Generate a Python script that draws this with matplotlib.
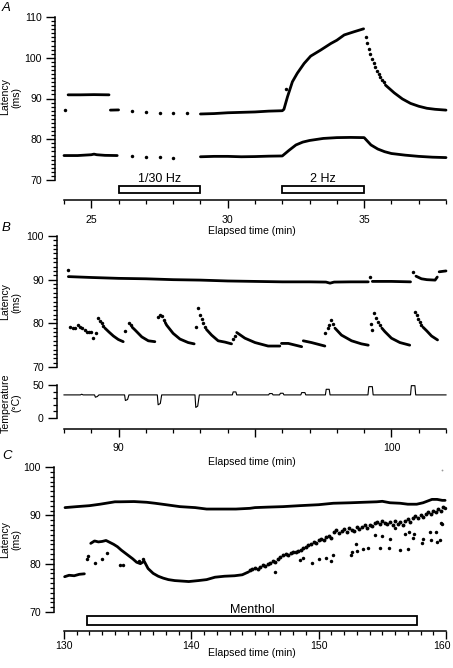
import matplotlib
matplotlib.use("Agg")
import matplotlib.pyplot as plt
from matplotlib.patches import Rectangle
from matplotlib.ticker import MultipleLocator, FixedLocator
from matplotlib.transforms import ScaledTranslation

plt.rcParams['font.family'] = ['Liberation Sans', 'DejaVu Sans']

# ---------------- panel A : latency vs time ----------------
a_up_dot_t = [24.05, 26.5, 27.0, 27.5, 28.0, 28.5, 32.12]
a_up_dot_v = [87.1, 86.85, 86.6, 86.5, 86.35, 86.35, 92.3]
a_up_seg1_t = [24.15, 24.6, 25.1, 25.65]
a_up_seg1_v = [90.9, 90.9, 90.95, 90.9]
a_up_seg2_t = [25.7, 26.0]
a_up_seg2_v = [87.15, 87.2]
a_up_seg3_t = [29.0, 29.5, 30.0, 30.5, 31.0, 31.5, 32.0, 32.06, 32.19, 32.37, 32.55,
               32.8, 33.04, 33.41, 33.78, 34.0, 34.27, 34.64, 34.98]
a_up_seg3_v = [86.2, 86.3, 86.5, 86.6, 86.7, 86.9, 87.0, 87.35, 90.4, 94.1, 96.2,
               98.6, 100.4, 101.9, 103.5, 104.3, 105.6, 106.4, 107.1]
a_decay_dot_t = [35.05, 35.11, 35.17, 35.23, 35.29, 35.35, 35.41, 35.47, 35.53,
                 35.59, 35.65, 35.71]
a_decay_dot_v = [105.2, 103.6, 102.2, 100.9, 99.7, 98.7, 97.7, 96.8, 96.0,
                 95.3, 94.6, 94.0]
a_decay_t = [35.78, 36.1, 36.4, 36.7, 37.0, 37.3, 37.6, 38.0]
a_decay_v = [93.3, 91.4, 89.9, 88.8, 88.1, 87.6, 87.35, 87.15]

a_lo_seg1_t = [24.0, 24.5, 25.0, 25.1, 25.2, 25.5, 25.95]
a_lo_seg1_v = [76.0, 76.0, 76.2, 76.35, 76.2, 76.05, 76.0]
a_lo_dot_t = [26.5, 27.0, 27.5, 28.0]
a_lo_dot_v = [75.8, 75.7, 75.65, 75.5]
a_lo_seg2_t = [29.0, 29.5, 30.0, 30.5, 31.0, 31.5, 32.0, 32.25, 32.5, 32.75, 33.0, 33.5,
               34.0, 34.5, 35.0, 35.25, 35.5, 35.75, 36.0, 36.5, 37.0, 37.5, 38.0]
a_lo_seg2_v = [75.7, 75.8, 75.8, 75.7, 75.75, 75.85, 75.9, 77.3, 78.6, 79.3, 79.7, 80.2,
               80.4, 80.45, 80.4, 78.6, 77.6, 76.95, 76.5, 76.1, 75.8, 75.6, 75.5]

a_bar_start = [26, 32]
a_bar_end = [29, 35]
a_bar_labels = ['1/30 Hz', '2 Hz']

# ---------------- panel B : latency + temperature ----------------
b_up_dot_t = [88.13, 99.23, 100.8]
b_up_dot_v = [92.2, 90.7, 91.7]
b_up_seg1_t = [88.16, 89.0, 90.0, 91.0, 92.0, 93.0, 94.0, 95.0, 96.0, 97.0, 97.6,
               97.75, 97.9, 98.5, 99.15]
b_up_seg1_v = [90.7, 90.5, 90.3, 90.2, 90.0, 89.9, 89.7, 89.6, 89.5, 89.5, 89.45,
               89.2, 89.45, 89.5, 89.5]
b_up_seg2_t = [99.3, 100.0, 100.7]
b_up_seg2_v = [89.6, 89.6, 89.5]
b_up_seg3_t = [100.9, 101.1, 101.3, 101.6, 101.68]
b_up_seg3_v = [90.8, 90.2, 90.0, 89.9, 90.6]
b_up_seg4_t = [101.75, 102.0]
b_up_seg4_v = [91.8, 92.0]

b_lo_dot_t = [88.22, 88.34, 88.40, 88.52, 88.60, 88.65, 88.77, 88.83, 88.92, 88.99, 89.07, 89.16,
              89.26, 89.32, 89.38, 89.44,
              90.23, 90.38, 90.44,
              91.45, 91.52, 91.58, 91.65,
              92.82, 92.92, 92.98, 93.04, 93.10, 93.16,
              94.2, 94.27,
              97.58, 97.66, 97.72, 97.78, 97.85,
              99.25, 99.27, 99.37, 99.44, 99.51, 99.58,
              100.86, 100.92, 100.98, 101.04, 101.10]
b_lo_dot_v = [79.1, 78.9, 79.0, 79.6, 79.1, 78.9, 78.5, 78.1, 78.1, 78.0, 76.7, 77.7,
              81.15, 80.5, 80.0, 79.5,
              78.3, 80.15, 79.6,
              81.5, 81.9, 81.6, 80.8,
              79.2, 83.4, 81.9, 81.0, 80.1, 79.2,
              76.3, 77.2,
              77.7, 78.9, 79.6, 80.8, 79.8,
              79.85, 78.5, 82.3, 81.3, 80.4, 79.6,
              82.7, 81.8, 81.0, 80.4, 79.7]
b_lo_tails = [
    ([89.50, 89.65, 89.81, 89.99, 90.17], [78.9, 78.0, 77.1, 76.3, 75.8]),
    ([90.50, 90.60, 90.85, 91.09, 91.33], [79.1, 78.5, 76.9, 76.0, 75.8]),
    ([91.71, 91.76, 92.0, 92.25, 92.55, 92.77], [80.2, 79.6, 77.7, 76.4, 75.6, 75.3]),
    ([93.22, 93.41, 93.65, 93.90, 94.14], [78.6, 77.3, 76.0, 75.7, 75.3]),
    ([94.33, 94.63, 95.0, 95.48, 95.91], [77.9, 76.6, 75.6, 74.8, 74.8]),
    ([95.97, 96.22, 96.71], [75.4, 75.4, 74.65]),
    ([96.77, 97.07, 97.56], [76.0, 75.6, 74.8]),
    ([97.93, 98.17, 98.54, 98.9, 99.15], [78.9, 77.3, 76.0, 75.3, 75.0]),
    ([99.65, 99.76, 100.0, 100.31, 100.67], [78.9, 78.1, 76.6, 75.6, 75.0]),
    ([101.16, 101.29, 101.47, 101.69], [79.1, 78.3, 77.1, 76.2]),
]

temp_t = [88.0, 88.6, 88.65, 88.7, 89.12, 89.15, 89.22, 89.28, 90.22, 90.25, 90.33, 90.38,
          91.42, 91.45, 91.53, 91.58, 92.8, 92.83, 92.9, 92.96, 94.17, 94.2, 94.3, 94.33,
          95.5, 95.53, 95.63, 95.66, 95.9, 95.93, 96.03, 96.06, 96.68, 96.71, 96.83, 96.86,
          97.58, 97.61, 97.72, 97.75, 99.14, 99.17, 99.3, 99.33, 100.7, 100.73, 100.86,
          100.89, 102.0]
temp_v = [35, 35, 36, 35, 35, 31.5, 32.5, 35, 35, 26.5, 28, 35, 35, 20, 22, 35, 35, 16,
          18, 35, 35, 39.5, 39.5, 35, 35, 37, 37, 35, 35, 37.5, 37.5, 35, 35, 38.5, 38.5,
          35, 35, 43.5, 43.5, 35, 35, 47.5, 47.5, 35, 35, 49, 49, 35, 35]

# ---------------- panel C : menthol ----------------
c_up_t = [130.08, 131.0, 132.0, 132.83, 134.0, 134.4, 135.5, 136.5, 137.15, 138.0, 139.1,
          140.3, 141.2, 142.4, 143.5, 144.6, 145.0, 146.0, 147.2, 148.5, 150.0, 151.15,
          152.5, 153.5, 154.56, 155.0, 155.6, 156.4, 157.0, 157.7, 158.2, 158.5, 158.9,
          159.3, 159.7, 159.93]
c_up_v = [91.6, 91.8, 92.0, 92.3, 92.8, 92.8, 92.85, 92.7, 92.5, 92.2, 91.8, 91.6, 91.3,
          91.3, 91.3, 91.45, 91.6, 91.7, 91.8, 92.0, 92.2, 92.5, 92.6, 92.7, 92.8, 92.9,
          92.6, 92.5, 92.3, 92.3, 92.6, 92.9, 93.3, 93.3, 93.1, 93.1]

c_lo_seg1_t = [130.05, 130.4, 130.8, 131.2, 131.6]
c_lo_seg1_v = [77.3, 77.6, 77.5, 77.8, 77.9]
c_lo_seg2_t = [132.1, 132.4, 132.7, 133.0, 133.3, 133.6, 133.9, 134.2, 134.5, 134.8, 135.1,
               135.4, 135.7, 136.0, 136.3, 136.6, 137.0, 137.4, 137.8, 138.2, 138.7, 139.25,
               139.8, 140.55, 141.2, 141.86, 142.6, 143.4, 144.0, 144.5]
c_lo_seg2_v = [84.2, 84.7, 84.5, 84.6, 84.8, 84.4, 84.0, 83.5, 82.8, 82.2, 81.6, 81.0,
               80.3, 80.0, 80.5, 79.0, 78.0, 77.4, 77.0, 76.7, 76.5, 76.4, 76.3, 76.5,
               76.7, 77.2, 77.4, 77.5, 77.7, 78.3]
c_lo_band_t = [144.6, 144.8, 145.0, 145.2, 145.4, 145.6, 145.8, 146.0, 146.2, 146.4, 146.6,
               146.8, 147.0, 147.2, 147.4, 147.6, 147.8, 148.0, 148.2, 148.4, 148.6, 148.8,
               149.0, 149.2, 149.4, 149.6, 149.8, 150.0, 150.2, 150.4, 150.6, 150.8, 151.0,
               151.2, 151.4, 151.6, 151.8, 152.0, 152.2, 152.4, 152.6, 152.8, 153.0, 153.2,
               153.4, 153.6, 153.8, 154.0, 154.2, 154.4, 154.6, 154.8, 155.0, 155.2, 155.4,
               155.6, 155.8, 156.0, 156.2, 156.4, 156.6, 156.8, 157.0, 157.2, 157.4, 157.6,
               157.8, 158.0, 158.2, 158.4, 158.6, 158.8, 159.0, 159.2, 159.4, 159.6, 159.8]
c_lo_band_v = [78.7, 79.0, 79.2, 79.0, 79.4, 79.8, 79.6, 80.0, 80.2, 80.5, 80.3,
               80.9, 81.3, 81.7, 82.0, 81.8, 82.2, 82.5, 82.4, 82.6, 82.8, 83.2,
               83.4, 83.9, 84.1, 84.5, 84.3, 84.9, 85.2, 84.8, 85.5, 85.8, 85.3,
               86.6, 86.9, 86.4, 86.8, 87.1, 86.5, 87.3, 87.0, 86.7, 87.5, 87.2,
               87.6, 87.9, 87.4, 88.0, 87.7, 88.4, 88.7, 88.3, 88.9, 88.5, 88.2,
               88.6, 88.0, 88.8, 88.3, 88.6, 88.1, 88.9, 89.2, 88.6, 89.4, 89.8,
               89.4, 90.0, 89.7, 90.3, 90.6, 90.2, 91.0, 90.7, 91.4, 91.0, 91.8]
c_lo_scatter_t = [131.8, 131.9, 132.4, 132.96, 133.35, 134.4, 134.66, 135.9, 136.2,
                  146.6, 148.5, 148.8, 149.45, 150.0, 150.6, 151.0, 151.15, 152.5, 152.6,
                  152.9, 153.0, 153.5, 153.9, 154.4, 154.8, 155.0, 155.5, 155.6, 156.0,
                  156.4, 156.8, 157.0, 157.1, 157.4, 157.5, 158.1, 158.2, 158.75, 158.8,
                  159.2, 159.3, 159.5, 159.6, 159.7, 159.9]
c_lo_scatter_v = [81.0, 81.5, 80.1, 80.9, 82.3, 79.7, 79.7, 80.6, 80.9,
                  78.3, 80.8, 81.1, 80.2, 80.9, 81.1, 80.6, 81.8, 81.8, 82.5,
                  84.1, 82.6, 83.0, 83.2, 85.9, 83.2, 85.7, 83.2, 85.2, 87.3,
                  82.8, 86.2, 83.0, 86.6, 85.3, 86.2, 84.2, 85.2, 86.6, 84.9,
                  86.5, 84.5, 84.8, 88.35, 88.2, 91.5]
c_stray_t = [159.7]
c_stray_v = [99.3]

c_bar_start = [131.83]
c_bar_end = [157.75]
c_bar_labels = ['Menthol']
c_ticks = [130, 140, 150, 160]

# ---------------- layout helpers ----------------
W, H = 453, 668
fig = plt.figure(figsize=(W / 100, H / 100), dpi=100)
PT = 0.72  # points per pixel at 100 dpi
LW = 2.0
MS = 2.5
FS = 7.6


def box(x0, y0, x1, y1):
    return [x0 / W, 1 - y1 / H, (x1 - x0) / W, (y1 - y0) / H]


def style(ax, left_off, bottom_off=None, xpad=4):
    ax.spines['top'].set_visible(False)
    ax.spines['right'].set_visible(False)
    ax.spines['left'].set_position(('outward', left_off * PT))
    ax.spines['left'].set_linewidth(1.1)
    if bottom_off is None:
        ax.spines['bottom'].set_visible(False)
        ax.tick_params(axis='x', which='both', bottom=False, labelbottom=False)
    else:
        ax.spines['bottom'].set_position(('outward', bottom_off * PT))
        ax.spines['bottom'].set_linewidth(1.1)
    ax.tick_params(axis='both', which='major', length=5.8, width=1.0, labelsize=FS,
                   direction='out')
    ax.tick_params(axis='both', which='minor', length=3.2, width=0.9, direction='out')
    ax.tick_params(axis='y', which='major', length=6.5, pad=3.0)
    ax.tick_params(axis='x', which='major', pad=xpad)
    ax.set_facecolor('none')


def line(ax, t, v):
    ax.plot(t, v, '-', color='black', lw=LW, solid_capstyle='round', clip_on=False)


def dots(ax, t, v, ms=MS, color='black'):
    ax.plot(t, v, 'o', color=color, ms=ms, mew=0, clip_on=False)


def bars(ax, starts, ends, labels, y0, h, ty):
    for s, e, lab in zip(starts, ends, labels):
        ax.add_patch(Rectangle((s, y0), e - s, h, fc='white', ec='black', lw=1.3,
                               clip_on=False))
        ax.text((s + e) / 2, ty, lab, ha='center', va='baseline', fontsize=9,
                clip_on=False)


def ylabel(text, py):
    fig.text(11 / W, 1 - py / H, text, rotation=90, ha='center', va='center',
             fontsize=FS, multialignment='center', linespacing=1.1)


def xlabel(text, py):
    fig.text(252 / W, 1 - py / H, text, ha='center', va='center', fontsize=FS)


def letter(text, py):
    fig.text(2 / W, 1 - py / H, text, ha='left', va='center', fontsize=9.5, style='italic')


# ---------------- panel A ----------------
axA = fig.add_axes(box(64, 17, 446, 180))
style(axA, 9, 20, xpad=5)
axA.set_xlim(24, 38)
axA.set_ylim(70, 110)
axA.xaxis.set_major_locator(FixedLocator([25, 30, 35]))
axA.xaxis.set_minor_locator(MultipleLocator(1))
axA.yaxis.set_major_locator(MultipleLocator(10))
axA.yaxis.set_minor_locator(MultipleLocator(1))
line(axA, a_up_seg1_t, a_up_seg1_v)
line(axA, a_up_seg2_t, a_up_seg2_v)
line(axA, a_up_seg3_t, a_up_seg3_v)
line(axA, a_decay_t, a_decay_v)
dots(axA, a_up_dot_t, a_up_dot_v)
dots(axA, a_decay_dot_t, a_decay_dot_v)
line(axA, a_lo_seg1_t, a_lo_seg1_v)
line(axA, a_lo_seg2_t, a_lo_seg2_v)
dots(axA, a_lo_dot_t, a_lo_dot_v)
bars(axA, a_bar_start, a_bar_end, a_bar_labels, 66.9, 1.7, 69.6)
ylabel('Latency\n(ms)', 97)
xlabel('Elapsed time (min)', 231)
letter('A', 8)

# ---------------- panel B ----------------
axB = fig.add_axes(box(64, 236, 446, 367))
style(axB, 7)
axB.set_xlim(88, 102)
axB.set_ylim(70, 100)
axB.yaxis.set_major_locator(MultipleLocator(10))
axB.yaxis.set_minor_locator(MultipleLocator(1))
line(axB, b_up_seg1_t, b_up_seg1_v)
line(axB, b_up_seg2_t, b_up_seg2_v)
line(axB, b_up_seg3_t, b_up_seg3_v)
line(axB, b_up_seg4_t, b_up_seg4_v)
dots(axB, b_up_dot_t, b_up_dot_v)
dots(axB, b_lo_dot_t, b_lo_dot_v)
for tt, vv in b_lo_tails:
    line(axB, tt, vv)
ylabel('Latency\n(ms)', 302)
letter('B', 228)

axT = fig.add_axes(box(64, 385, 446, 418))
style(axT, 7, 11, xpad=4.3)
axT.set_xlim(88, 102)
axT.set_ylim(0, 50)
axT.xaxis.set_major_locator(FixedLocator([90, 95, 100]))
axT.xaxis.set_minor_locator(MultipleLocator(1))
axT.set_xticklabels(['90', '', '100'])
axT.yaxis.set_major_locator(FixedLocator([0, 50]))
axT.yaxis.set_minor_locator(MultipleLocator(10))
axT.plot(temp_t, temp_v, '-', color='black', lw=0.8, clip_on=False)
ylabel('Temperature\n(\u00b0C)', 403)
xlabel('Elapsed time (min)', 462)

# ---------------- panel C ----------------
axC = fig.add_axes(box(64, 467, 446, 612))
style(axC, 10, 19, xpad=1.5)
axC.set_xlim(130, 160)
axC.set_ylim(70, 100)
axC.set_xticks(c_ticks)
axC.set_xticklabels([str(t) for t in c_ticks])
axC.xaxis.set_minor_locator(MultipleLocator(1))
axC.yaxis.set_major_locator(MultipleLocator(10))
axC.yaxis.set_minor_locator(MultipleLocator(1))
# keep the last tick label inside the figure edge
last = axC.get_xticklabels()[-1]
last.set_transform(last.get_transform() + ScaledTranslation(-4 / 100, 0, fig.dpi_scale_trans))
line(axC, c_up_t, c_up_v)
line(axC, c_lo_seg1_t, c_lo_seg1_v)
line(axC, c_lo_seg2_t, c_lo_seg2_v)
dots(axC, c_lo_band_t, c_lo_band_v, ms=2.8)
dots(axC, c_lo_scatter_t, c_lo_scatter_v)
dots(axC, c_stray_t, c_stray_v, ms=1.3, color='0.6')
bars(axC, c_bar_start, c_bar_end, c_bar_labels, 67.25, 1.92, 69.85)
ylabel('Latency\n(ms)', 540)
xlabel('Elapsed time (min)', 653)
letter('C', 456)

fig.savefig('out.png', dpi=100)
